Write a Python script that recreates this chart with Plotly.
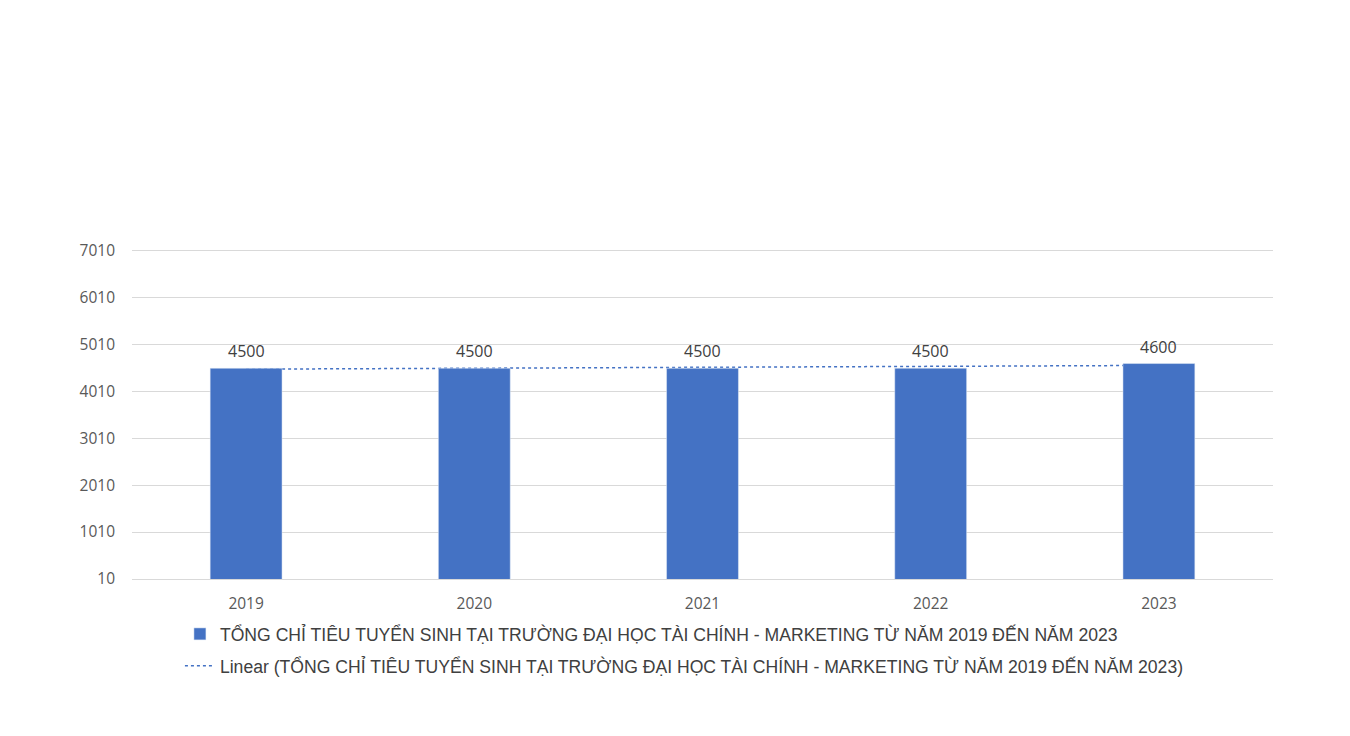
import numpy as np
import plotly.graph_objects as go

years = ["2019", "2020", "2021", "2022", "2023"]
chi_tieu = [4500, 4500, 4500, 4500, 4600]
y_ticks = [10, 1010, 2010, 3010, 4010, 5010, 6010, 7010]

series_name = "TỔNG CHỈ TIÊU TUYỂN SINH TẠI TRƯỜNG ĐẠI HỌC TÀI CHÍNH - MARKETING TỪ NĂM 2019 ĐẾN NĂM 2023"

# linear trendline, like excel does it
idx = np.arange(1, len(chi_tieu) + 1)
slope, intercept = np.polyfit(idx, chi_tieu, 1)
trend = slope * idx + intercept

blue = "#4472C4"
grey_txt = "#595959"

fig = go.Figure()
# bars sit on an overlay axis so they cover the dotted trend line
fig.add_trace(go.Bar(
    x=years, y=chi_tieu, name=series_name,
    marker_color=blue, xaxis="x2", yaxis="y2",
    legendgroup="a",
))
fig.add_trace(go.Scatter(
    x=years, y=trend, mode="lines",
    name="Linear (" + series_name + ")",
    line=dict(color=blue, width=1.5, dash="dot"),
    legendgroup="b",
))

# data labels (category index, "2019" would be read as a number)
for i, v in enumerate(chi_tieu):
    fig.add_annotation(x=i, y=v, xref="x", yref="y", text=str(v),
                       showarrow=False, yanchor="bottom", yshift=4,
                       font=dict(family="Open Sans", size=16, color="#404040"))

yax = dict(range=[10, 7040], tickvals=y_ticks, ticktext=[str(v) for v in y_ticks],
           showline=False, zeroline=False, ticks="", ticklabelstandoff=16,
           tickfont=dict(family="Open Sans", size=15.5, color=grey_txt))
xax = dict(type="category", categoryorder="array", categoryarray=years,
           range=[-0.5, 4.5], ticks="", ticklabelstandoff=10,
           tickfont=dict(family="Open Sans", size=15.5, color=grey_txt))

fig.update_layout(
    width=1350, height=736,
    margin=dict(l=124, r=85, t=241, b=165),
    paper_bgcolor="white", plot_bgcolor="white",
    bargap=0.685, showlegend=True,
    xaxis=dict(**xax, showline=True, linecolor="#d9d9d9", linewidth=1, showgrid=False),
    yaxis=dict(**yax, showgrid=True, gridcolor="#d9d9d9", gridwidth=1),
    xaxis2=dict(**xax, overlaying="x", showticklabels=False, showgrid=False),
    yaxis2=dict(**yax, overlaying="y", showticklabels=False, showgrid=False),
    legend=dict(orientation="v", x=0.042, xanchor="left", y=-0.112, yanchor="top",
                traceorder="grouped", tracegroupgap=6,
                font=dict(family="Liberation Sans", size=17.6, color="#404040"),
                itemwidth=30, bgcolor="rgba(0,0,0,0)"),
)

fig.write_html("out.html")
